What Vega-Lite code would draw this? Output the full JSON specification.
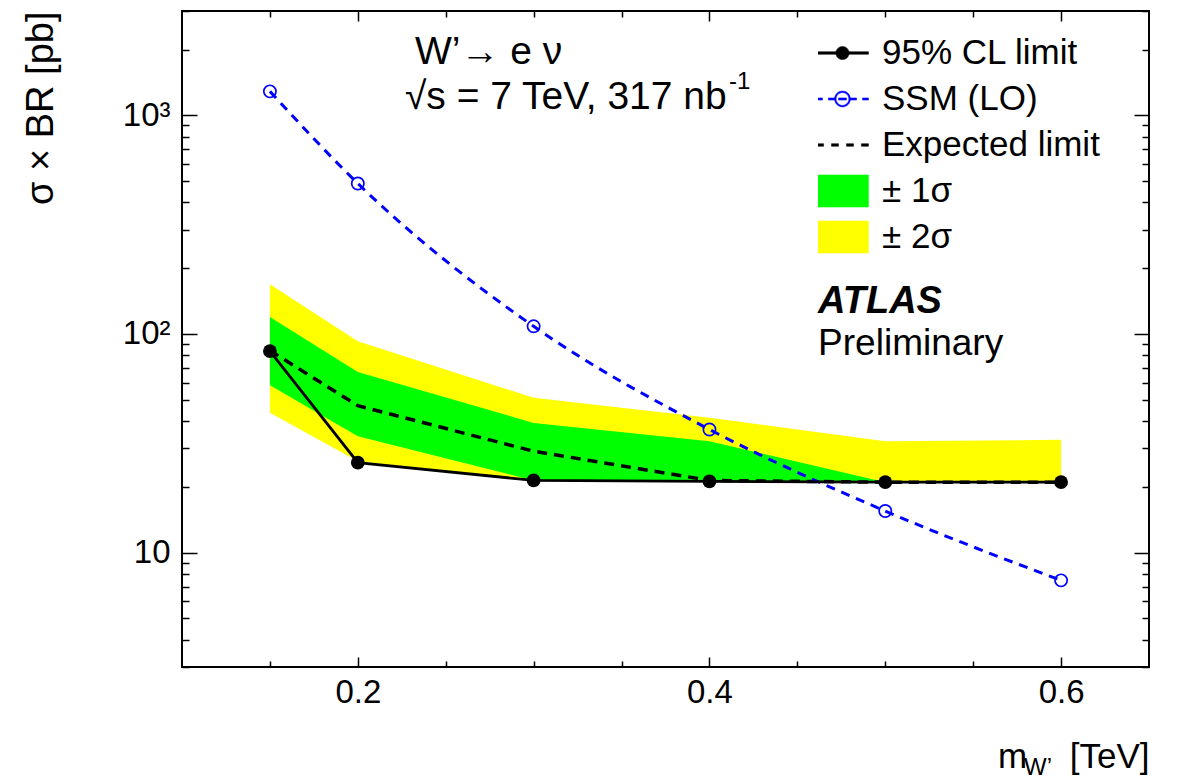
{
  "$schema": "https://vega.github.io/schema/vega-lite/v6.json",
  "width": 967,
  "height": 656,
  "autosize": {"type": "none"},
  "padding": {"left": 182, "top": 11, "right": 35, "bottom": 114},
  "background": "white",
  "config": {
    "font": "Liberation Sans",
    "view": {"stroke": "black", "strokeWidth": 2},
    "axis": {"grid": false, "domain": false, "labelFont": "Liberation Sans", "titleFont": "Liberation Sans", "labelColor": "black", "titleColor": "black", "tickColor": "black", "tickWidth": 1.5, "titleFontWeight": "normal", "labelOverlap": false, "labelFlush": false, "labelBound": false}
  },
  "datasets": {
    "limits": [
      {"m": 0.15, "obs": 83.5, "exp": 84, "lo1": 58.3, "hi1": 119.5, "lo2": 43.6, "hi2": 168.7, "ssm": 1287},
      {"m": 0.2, "obs": 25.8, "exp": 47, "lo1": 34.1, "hi1": 67.1, "lo2": 26.2, "hi2": 92.6, "ssm": 488},
      {"m": 0.3, "obs": 21.4, "exp": 29.1, "lo1": 21.4, "hi1": 39.2, "lo2": 21.4, "hi2": 51.1, "ssm": 108.4},
      {"m": 0.4, "obs": 21.2, "exp": 21.4, "lo1": 21.2, "hi1": 32.3, "lo2": 21.2, "hi2": 41.4, "ssm": 36.6},
      {"m": 0.5, "obs": 21.0, "exp": 21.0, "lo1": 21.0, "hi1": 21.0, "lo2": 21.0, "hi2": 32.3, "ssm": 15.5},
      {"m": 0.6, "obs": 21.0, "exp": 21.0, "lo1": 21.0, "hi1": 21.0, "lo2": 21.0, "hi2": 32.8, "ssm": 7.47}
    ]
  },
  "data": {"name": "limits"},
  "resolve": {"axis": {"x": "independent", "y": "independent"}},
  "layer": [
    {
      "mark": {"type": "area", "opacity": 1},
      "encoding": {
        "x": {
          "field": "m", "type": "quantitative",
          "scale": {"domain": [0.1, 0.65], "nice": false, "zero": false},
          "axis": {
            "orient": "bottom",
            "values": [0.15, 0.2, 0.25, 0.3, 0.35, 0.4, 0.45, 0.5, 0.55, 0.6],
            "format": ".1f",
            "labelExpr": "(datum.value == 0.2 || datum.value == 0.4 || datum.value == 0.6) ? datum.label : ''",
            "labelFontSize": 33,
            "labelPadding": 19,
            "tickSize": {"expr": "(datum.value == 0.2 || datum.value == 0.4 || datum.value == 0.6) ? -10 : -6"},
            "title": "[TeV]",
            "titleFontSize": 35,
            "titleAnchor": "end",
            "titlePadding": 26
          }
        },
        "y": {
          "field": "lo2", "type": "quantitative",
          "scale": {"type": "log", "domain": [3, 3000], "nice": false},
          "axis": {
            "orient": "left",
            "values": [3, 4, 5, 6, 7, 8, 9, 10, 20, 30, 40, 50, 60, 70, 80, 90, 100, 200, 300, 400, 500, 600, 700, 800, 900, 1000, 2000, 3000],
            "labelExpr": "datum.value == 10 ? '10' : datum.value == 100 ? '10²' : datum.value == 1000 ? '10³' : ''",
            "labelFontSize": 33,
            "labelPadding": 27,
            "tickSize": {"expr": "(datum.value == 10 || datum.value == 100 || datum.value == 1000) ? -15 : -7"},
            "title": "σ × BR [pb]",
            "titleFontSize": 38,
            "titleAnchor": "end",
            "titlePadding": 62
          }
        },
        "y2": {"field": "hi2"},
        "color": {
          "datum": "± 2σ", "type": "nominal",
          "scale": {
            "domain": ["95% CL limit", "SSM (LO)", "Expected limit", "± 1σ", "± 2σ"],
            "range": ["#000000", "#0000ff", "#000000", "#00ff00", "#ffff00"]
          },
          "legend": {
            "orient": "none",
            "legendX": 636,
            "legendY": 19,
            "title": null,
            "padding": 0,
            "rowPadding": 0,
            "clipHeight": 46,
            "labelFont": "Liberation Sans",
            "labelFontSize": 35,
            "labelColor": "black",
            "labelLimit": 400,
            "labelOffset": 17,
            "symbolOffset": 2,
            "symbolSize": 1936,
            "symbolStrokeWidth": 0.5,
            "encoding": {
              "symbols": {
                "shape": {"value": {"expr": "datum.index === 0 ? 'M-1.18,-0.06H1.18V0.06H-1.18ZM0.3,0A0.3,0.3 0 1,1 -0.3,0A0.3,0.3 0 1,1 0.3,0Z' : datum.index === 1 ? 'M-1.18,-0.05H-0.91V0.05H-1.18ZM-0.64,-0.05H-0.36V0.05H-0.64ZM-0.18,-0.05H0.18V0.05H-0.18ZM0.36,-0.05H0.64V0.05H0.36ZM0.91,-0.05H1.18V0.05H0.91ZM0.36,0A0.36,0.36 0 1,1 -0.36,0A0.36,0.36 0 1,1 0.36,0ZM0.29,0A0.29,0.29 0 1,0 -0.29,0A0.29,0.29 0 1,0 0.29,0Z' : datum.index === 2 ? 'M-1.18,-0.06H-0.86V0.06H-1.18ZM-0.5,-0.06H-0.18V0.06H-0.5ZM0.18,-0.06H0.5V0.06H0.18ZM0.86,-0.06H1.18V0.06H0.86Z' : 'M-1.18,-0.73H1.18V0.73H-1.18Z'"}},
                "opacity": {"value": 1}
              }
            }
          }
        }
      }
    },
    {
      "mark": {"type": "area", "opacity": 1},
      "encoding": {
        "x": {
          "field": "m", "type": "quantitative",
          "scale": {"domain": [0.1, 0.65], "nice": false, "zero": false},
          "axis": {
            "orient": "top",
            "values": [0.15, 0.2, 0.25, 0.3, 0.35, 0.4, 0.45, 0.5, 0.55, 0.6],
            "labels": false,
            "tickSize": {"expr": "(datum.value == 0.2 || datum.value == 0.4 || datum.value == 0.6) ? -10 : -6"},
            "title": null
          }
        },
        "y": {
          "field": "lo1", "type": "quantitative",
          "scale": {"type": "log", "domain": [3, 3000], "nice": false},
          "axis": {
            "orient": "right",
            "values": [3, 4, 5, 6, 7, 8, 9, 10, 20, 30, 40, 50, 60, 70, 80, 90, 100, 200, 300, 400, 500, 600, 700, 800, 900, 1000, 2000, 3000],
            "labels": false,
            "tickSize": {"expr": "(datum.value == 10 || datum.value == 100 || datum.value == 1000) ? -15 : -7"},
            "title": null
          }
        },
        "y2": {"field": "hi1"},
        "color": {"datum": "± 1σ", "type": "nominal"}
      }
    },
    {
      "mark": {"type": "line", "strokeDash": [10, 7], "strokeWidth": 3.5},
      "encoding": {
        "x": {"field": "m", "type": "quantitative", "axis": null},
        "y": {"field": "exp", "type": "quantitative", "axis": null},
        "color": {"datum": "Expected limit", "type": "nominal"}
      }
    },
    {
      "mark": {"type": "line", "interpolate": "monotone", "strokeDash": [9, 7], "strokeWidth": 3},
      "encoding": {
        "x": {"field": "m", "type": "quantitative", "axis": null},
        "y": {"field": "ssm", "type": "quantitative", "axis": null},
        "color": {"datum": "SSM (LO)", "type": "nominal"}
      }
    },
    {
      "mark": {"type": "point", "filled": false, "color": "#0000ff", "size": 150, "strokeWidth": 1.7, "opacity": 1},
      "encoding": {
        "x": {"field": "m", "type": "quantitative", "axis": null},
        "y": {"field": "ssm", "type": "quantitative", "axis": null}
      }
    },
    {
      "mark": {"type": "line", "strokeWidth": 2.8},
      "encoding": {
        "x": {"field": "m", "type": "quantitative", "axis": null},
        "y": {"field": "obs", "type": "quantitative", "axis": null},
        "color": {"datum": "95% CL limit", "type": "nominal"}
      }
    },
    {
      "mark": {"type": "point", "filled": true, "color": "#000000", "size": 190, "opacity": 1},
      "encoding": {
        "x": {"field": "m", "type": "quantitative", "axis": null},
        "y": {"field": "obs", "type": "quantitative", "axis": null}
      }
    },
    {
      "data": {"values": [{"label": "W’→ e ν"}]},
      "mark": {"type": "text", "align": "left", "baseline": "middle", "fontSize": 39, "font": "Liberation Sans"},
      "encoding": {
        "x": {"datum": 0.2325, "type": "quantitative", "axis": null},
        "y": {"datum": 1948, "type": "quantitative", "axis": null},
        "text": {"field": "label"}
      }
    },
    {
      "data": {"values": [{"label": "√s = 7 TeV, 317 nb"}]},
      "mark": {"type": "text", "align": "left", "baseline": "middle", "fontSize": 39, "font": "Liberation Sans"},
      "encoding": {
        "x": {"datum": 0.2268, "type": "quantitative", "axis": null},
        "y": {"datum": 1212, "type": "quantitative", "axis": null},
        "text": {"field": "label"}
      }
    },
    {
      "data": {"values": [{"label": "-1"}]},
      "mark": {"type": "text", "align": "left", "baseline": "middle", "fontSize": 24, "font": "Liberation Sans", "dx": 324, "dy": -15},
      "encoding": {
        "x": {"datum": 0.2268, "type": "quantitative", "axis": null},
        "y": {"datum": 1212, "type": "quantitative", "axis": null},
        "text": {"field": "label"}
      }
    },
    {
      "data": {"values": [{"label": "ATLAS"}]},
      "mark": {"type": "text", "align": "left", "baseline": "middle", "fontSize": 38, "font": "Liberation Sans", "fontWeight": "bold", "fontStyle": "italic"},
      "encoding": {
        "x": {"datum": 0.4618, "type": "quantitative", "axis": null},
        "y": {"datum": 140.1, "type": "quantitative", "axis": null},
        "text": {"field": "label"}
      }
    },
    {
      "data": {"values": [{"label": "Preliminary"}]},
      "mark": {"type": "text", "align": "left", "baseline": "middle", "fontSize": 37, "font": "Liberation Sans"},
      "encoding": {
        "x": {"datum": 0.4618, "type": "quantitative", "axis": null},
        "y": {"datum": 90.0, "type": "quantitative", "axis": null},
        "text": {"field": "label"}
      }
    },
    {
      "data": {"values": [{"label": "m"}]},
      "mark": {"type": "text", "align": "left", "baseline": "middle", "fontSize": 35, "font": "Liberation Sans"},
      "encoding": {
        "x": {"datum": 0.5641, "type": "quantitative", "axis": null},
        "y": {"datum": 1.163, "type": "quantitative", "axis": null},
        "text": {"field": "label"}
      }
    },
    {
      "data": {"values": [{"label": "W’"}]},
      "mark": {"type": "text", "align": "left", "baseline": "middle", "fontSize": 24, "font": "Liberation Sans"},
      "encoding": {
        "x": {"datum": 0.5789, "type": "quantitative", "axis": null},
        "y": {"datum": 1.035, "type": "quantitative", "axis": null},
        "text": {"field": "label"}
      }
    }
  ]
}
